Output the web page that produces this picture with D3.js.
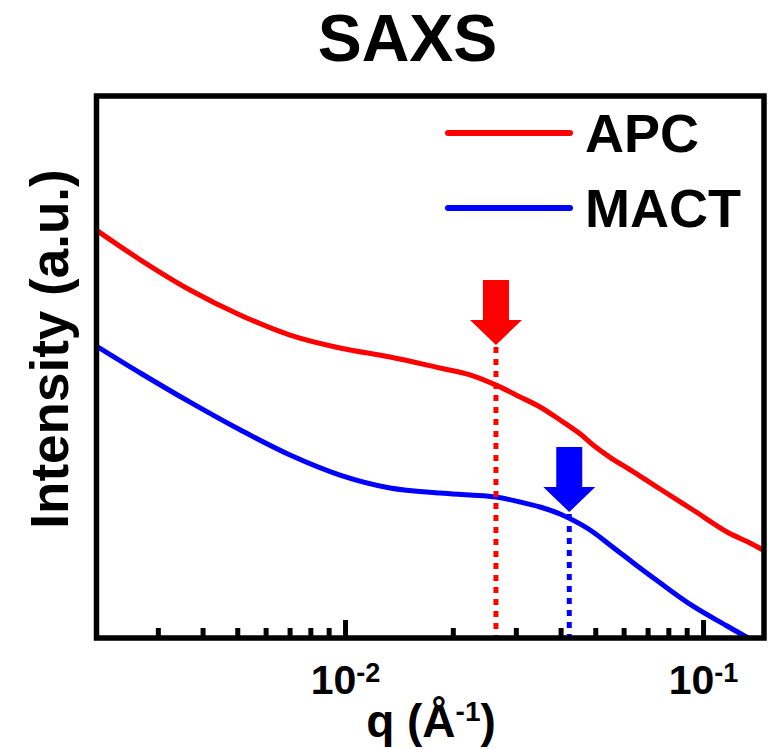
<!DOCTYPE html>
<html>
<head>
<meta charset="utf-8">
<script src="https://cdn.jsdelivr.net/npm/d3@7"></script>
<style>
  body { margin: 0; background: #fff; }
  text { font-family: "Liberation Sans", Arial, sans-serif; font-weight: bold; }
</style>
</head>
<body>
<div id="chart-area"></div>
<script>
// SAXS curves, q in 1/A, intensity in arbitrary units (log scale)
let qValues = [0.00202, 0.00268, 0.00369, 0.00509, 0.00702, 0.00968, 0.01336, 0.01842, 0.02234,
    0.02641, 0.03083, 0.03505, 0.03987, 0.04533, 0.04929, 0.05498, 0.06134, 0.06668, 0.07585,
    0.09378, 0.1167, 0.1353, 0.1471];
let apcValues = [181, 124, 84.4, 61.4, 47.5, 40.3, 35.9, 31.2, 28.6,
    25.1, 21.6, 19.0, 16.1, 13.5, 11.7, 10.0, 8.73, 7.88, 6.68,
    5.11, 3.86, 3.36, 3.07];
let mactValues = [41.3, 29.3, 20.2, 14.2, 10.3, 7.98, 6.77, 6.35, 6.19,
    6.03, 5.66, 5.31, 4.86, 4.28, 3.86, 3.27, 2.77, 2.44, 2.02,
    1.50, 1.165, 0.987, 0.903];

let seriesNames = ["APC", "MACT"];
let seriesColors = ["#ff0000", "#0000ff"];

// marked peak positions and where the arrow tips sit
let peakQ = [0.0264, 0.0423];
let arrowTip = [41.9, 4.98];

let majorTicks = [0.01, 0.1];
let minorTicks = [0.003, 0.004, 0.005, 0.006, 0.007, 0.008, 0.009,
    0.02, 0.03, 0.04, 0.05, 0.06, 0.07, 0.08, 0.09];

let W = 770, H = 749;
let frame = { left: 96.5, right: 764, top: 96, bottom: 638 };

let svg = d3.select("#chart-area")
    .append("svg")
    .attr("width", W)
    .attr("height", H);

svg.append("rect").attr("width", W).attr("height", H).attr("fill", "#fff");

let x = d3.scaleLog()
    .domain([0.002022, 0.148])
    .range([frame.left, frame.right]);

let y = d3.scaleLog()
    .domain([1, 1000])
    .range([frame.bottom, frame.top]);

svg.append("clipPath")
    .attr("id", "plot-clip")
    .append("rect")
    .attr("x", frame.left)
    .attr("y", frame.top)
    .attr("width", frame.right - frame.left)
    .attr("height", frame.bottom - frame.top);

// Title
svg.append("text")
    .attr("x", 407.5)
    .attr("y", 61)
    .attr("font-size", "66px")
    .attr("text-anchor", "middle")
    .text("SAXS");

// Curves
let series = [apcValues, mactValues];
let line = d3.line()
    .x(function(d) { return x(d[0]); })
    .y(function(d) { return y(d[1]); })
    .curve(d3.curveCatmullRom.alpha(0.5));

let plot = svg.append("g").attr("clip-path", "url(#plot-clip)");

series.forEach(function(vals, i) {
    let pts = qValues.map(function(q, j) { return [q, vals[j]]; });
    plot.append("path")
        .attr("d", line(pts))
        .attr("fill", "none")
        .attr("stroke", seriesColors[i])
        .attr("stroke-width", 5)
        .attr("stroke-linejoin", "round");
});

// Peak markers: dotted drop line + block arrow
peakQ.forEach(function(q, i) {
    let px = x(q), tipY = y(arrowTip[i]);
    plot.append("line")
        .attr("x1", px).attr("x2", px)
        .attr("y1", tipY + 2).attr("y2", frame.bottom)
        .attr("stroke", seriesColors[i])
        .attr("stroke-width", 5)
        .attr("stroke-dasharray", "6,6");

    let sw = 13, hw = 26, hl = 25, sl = 40;
    let pts = [
        [px - sw, tipY - hl - sl], [px + sw, tipY - hl - sl], [px + sw, tipY - hl],
        [px + hw, tipY - hl], [px, tipY], [px - hw, tipY - hl], [px - sw, tipY - hl]
    ];
    svg.append("polygon")
        .attr("points", pts.map(function(p) { return p.join(","); }).join(" "))
        .attr("fill", seriesColors[i]);
});

// X axis ticks (inward)
let minorAxis = d3.axisBottom(x).tickValues(minorTicks).tickSize(-10).tickFormat("");
let majorAxis = d3.axisBottom(x).tickValues(majorTicks).tickSize(-18).tickPadding(27);

let gMinor = svg.append("g")
    .attr("transform", "translate(0," + frame.bottom + ")")
    .call(minorAxis);
let gMajor = svg.append("g")
    .attr("transform", "translate(0," + frame.bottom + ")")
    .call(majorAxis);

[gMinor, gMajor].forEach(function(g) {
    g.select(".domain").remove();
    g.selectAll(".tick line").attr("stroke", "#000").attr("stroke-width", 5);
});

gMajor.selectAll(".tick text")
    .attr("fill", "#000")
    .attr("font-size", "41px")
    .attr("font-family", null)
    .each(function(d) {
        let t = d3.select(this);
        t.text(null);
        t.append("tspan").text("10");
        t.append("tspan")
            .attr("dy", "-0.45em")
            .attr("font-size", "27px")
            .text(Math.round(Math.log10(d)));
    });

// Frame
svg.append("rect")
    .attr("x", frame.left)
    .attr("y", frame.top)
    .attr("width", frame.right - frame.left)
    .attr("height", frame.bottom - frame.top)
    .attr("fill", "none")
    .attr("stroke", "#000")
    .attr("stroke-width", 5.5);

// X label
let xl = svg.append("text")
    .attr("x", 431)
    .attr("y", 737)
    .attr("font-size", "46px")
    .attr("text-anchor", "middle");
xl.append("tspan").text("q (Å");
xl.append("tspan").attr("dy", -16).attr("font-size", "28px").text("-1");
xl.append("tspan").attr("dy", 16).text(")");

// Y label
svg.append("text")
    .attr("transform", "translate(68,349) rotate(-90)")
    .attr("font-size", "53px")
    .attr("text-anchor", "middle")
    .text("Intensity (a.u.)");

// Legend
let legendY = [133, 208];
seriesNames.forEach(function(name, i) {
    svg.append("line")
        .attr("x1", 448).attr("x2", 570)
        .attr("y1", legendY[i]).attr("y2", legendY[i])
        .attr("stroke", seriesColors[i])
        .attr("stroke-width", 6)
        .attr("stroke-linecap", "round");
    svg.append("text")
        .attr("x", 585)
        .attr("y", legendY[i] + 19)
        .attr("font-size", "54px")
        .text(name);
});
</script>
</body>
</html>
